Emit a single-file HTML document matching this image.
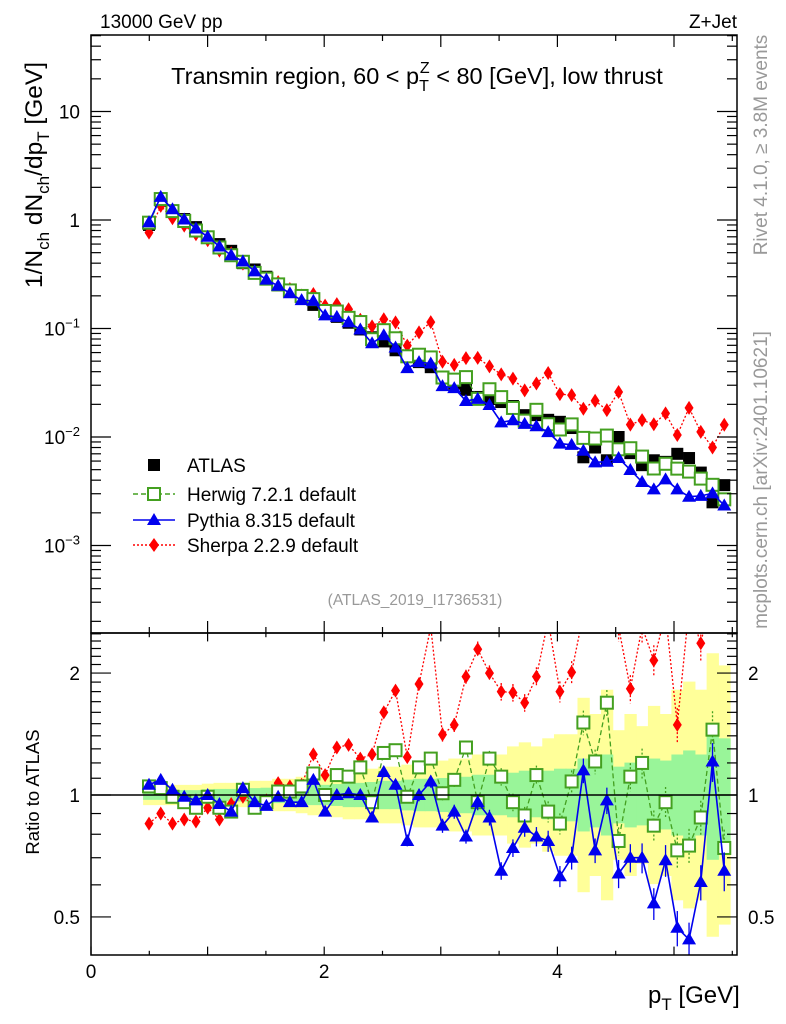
<!DOCTYPE html>
<html><head><meta charset="utf-8">
<style>
html,body{margin:0;padding:0;background:#fff;}
svg{display:block;font-family:"Liberation Sans",Arial,sans-serif;}
</style></head>
<body>
<svg id="chart" width="786" height="1024" viewBox="0 0 786 1024" xmlns="http://www.w3.org/2000/svg">
<defs>
<clipPath id="clipMain"><rect x="91" y="35" width="646" height="598"/></clipPath>
<clipPath id="clipRatio"><rect x="91" y="633" width="646" height="322"/></clipPath>
</defs>
<g id="bands" clip-path="url(#clipRatio)"></g>
<g id="series"></g>
<g id="axes"></g>
<text x="100" y="28" font-size="19">13000 GeV pp</text>
<text x="737" y="28" font-size="19" text-anchor="end">Z+Jet</text>
<text x="417" y="84" font-size="23.5" text-anchor="middle">Transmin region, 60 &lt; p<tspan font-size="16" dy="7">T</tspan><tspan font-size="16" dx="-9" dy="-18">Z</tspan><tspan dy="11"> &lt; 80 [GeV], low thrust</tspan></text>
<text x="415" y="605" font-size="15.5" fill="#999" text-anchor="middle">(ATLAS_2019_I1736531)</text>
<text transform="translate(767,145) rotate(-90)" font-size="19" fill="#999" text-anchor="middle">Rivet 4.1.0, ≥ 3.8M events</text>
<text transform="translate(767,480) rotate(-90)" font-size="19" fill="#999" text-anchor="middle">mcplots.cern.ch [arXiv:2401.10621]</text>
<text transform="translate(42,175) rotate(-90)" font-size="24.5" text-anchor="middle">1/N<tspan font-size="17" dy="7">ch</tspan><tspan dy="-7"> dN</tspan><tspan font-size="17" dy="7">ch</tspan><tspan dy="-7">/dp</tspan><tspan font-size="17" dy="7">T</tspan><tspan dy="-7"> [GeV]</tspan></text>
<text transform="translate(39,792) rotate(-90)" font-size="18.5" text-anchor="middle">Ratio to ATLAS</text>
<text x="648" y="1003" font-size="24">p<tspan font-size="17" dy="7">T</tspan><tspan dy="-7"> [GeV]</tspan></text>
<g>
<rect x="148" y="459" width="12" height="12" fill="#000"/>
<text x="187" y="472" font-size="19">ATLAS</text>
<line x1="133" y1="494" x2="175" y2="494" stroke="#44a020" stroke-width="1.5" stroke-dasharray="5,3"/>
<rect x="148" y="488" width="12" height="12" fill="#fff" stroke="#44a020" stroke-width="2"/>
<text x="187" y="501" font-size="19">Herwig 7.2.1 default</text>
<line x1="133" y1="520" x2="175" y2="520" stroke="#0000ee" stroke-width="1.5"/>
<path d="M154,513 L161,525 L147,525 Z" fill="#0000ee"/>
<text x="187" y="527" font-size="19">Pythia 8.315 default</text>
<line x1="133" y1="545" x2="175" y2="545" stroke="#ff0000" stroke-width="1.5" stroke-dasharray="2,2"/>
<path d="M154,538 L159,545 L154,552 L149,545 Z" fill="#ff0000"/>
<text x="187" y="552" font-size="19">Sherpa 2.2.9 default</text>
</g>
</svg>
<script>
const pT = [0.5,0.6,0.7,0.8,0.9,1.0,1.1,1.2,1.3,1.4,1.5,1.6,1.7,1.8,1.9,2.0,2.1,2.2,2.3,2.4,2.5,2.6,2.7,2.8,2.9,3.0,3.1,3.2,3.3,3.4,3.5,3.6,3.7,3.8,3.9,4.0,4.1,4.2,4.3,4.4,4.5,4.6,4.7,4.8,4.9,5.0,5.1,5.2,5.3,5.4];
const atlas = [0.90,1.50,1.22,1.02,0.86,0.70,0.60,0.52,0.40,0.35,0.30,0.25,0.22,0.19,0.165,0.145,0.128,0.113,0.098,0.083,0.076,0.063,0.056,0.049,0.044,0.035,0.031,0.0272,0.0234,0.0224,0.021,0.0193,0.0159,0.0159,0.0144,0.0138,0.0121,0.0065,0.0080,0.0061,0.0100,0.0071,0.0055,0.0061,0.0059,0.0070,0.0064,0.0047,0.0025,0.0036];
const herwigRatio = [1.05,1.04,0.99,0.96,0.93,0.99,0.93,0.91,1.03,0.93,0.96,1.02,1.02,1.05,1.13,1.0,1.12,1.11,1.17,0.96,1.27,1.29,0.99,1.17,1.23,1.01,1.09,1.31,0.96,1.23,1.11,0.96,0.89,1.12,0.91,0.85,1.08,1.51,1.21,1.69,0.77,1.11,1.20,0.84,0.96,0.73,0.75,0.88,1.45,0.74];
const pythiaRatio = [1.06,1.09,1.03,0.99,0.97,1.0,0.95,0.91,1.04,0.96,0.94,0.99,0.96,0.96,1.09,0.91,1.0,1.01,1.0,0.88,1.14,1.06,0.77,1.0,1.08,0.84,0.91,0.79,0.96,0.88,0.65,0.74,0.83,0.79,0.77,0.63,0.70,1.15,0.73,0.97,0.64,0.70,0.70,0.54,0.69,0.47,0.44,0.61,1.21,0.65];
const sherpaRatio = [0.85,0.90,0.85,0.87,0.86,0.93,0.87,0.95,0.99,0.94,0.97,1.07,1.05,1.06,1.26,1.12,1.31,1.33,1.23,1.26,1.60,1.81,1.24,1.88,2.6,1.41,1.49,1.96,2.29,2.0,1.80,1.79,1.69,1.96,2.7,1.80,2.01,2.8,2.7,2.9,2.6,1.83,2.6,2.15,2.8,1.49,2.9,2.37,3.2,3.6];
const mcErr = [0.01,0.01,0.01,0.01,0.01,0.01,0.01,0.01,0.01,0.01,0.015,0.015,0.015,0.02,0.02,0.02,0.02,0.025,0.025,0.025,0.03,0.03,0.03,0.035,0.035,0.04,0.04,0.04,0.045,0.045,0.05,0.05,0.05,0.055,0.06,0.06,0.065,0.07,0.07,0.075,0.08,0.08,0.085,0.09,0.09,0.1,0.1,0.1,0.11,0.11];
const yellowBand = [0.025,0.025,0.025,0.025,0.025,0.028,0.03,0.03,0.03,0.035,0.035,0.04,0.04,0.045,0.05,0.05,0.055,0.06,0.06,0.065,0.07,0.07,0.075,0.08,0.08,0.085,0.09,0.09,0.1,0.1,0.1,0.12,0.13,0.12,0.14,0.15,0.15,0.24,0.2,0.26,0.16,0.2,0.17,0.22,0.2,0.26,0.28,0.26,0.35,0.32];
const greenBand = [0.012,0.012,0.012,0.012,0.012,0.014,0.015,0.015,0.016,0.017,0.018,0.02,0.02,0.022,0.025,0.025,0.027,0.03,0.03,0.032,0.035,0.035,0.038,0.04,0.04,0.042,0.045,0.045,0.05,0.05,0.05,0.055,0.06,0.055,0.06,0.065,0.065,0.09,0.08,0.1,0.07,0.08,0.075,0.09,0.085,0.1,0.11,0.1,0.16,0.14];
const xTickLabels = ["0","2","4"];
const xTickValues = [0,2,4];
const mainTickExp = [1,0,-1,-2,-3];
const ratioTickValues = [2,1,0.5];

const NS="http://www.w3.org/2000/svg";
const X0=91, X1=737, MT=35, MB=633, RB=955;
const xs = v => 91 + v*116.6;
const xp = v => 149 + (v-0.5)*117.4;
const ym = v => 220 - Math.log10(v)*108.5;
const yr = v => 795 - Math.log10(v)*405;
function mk(tag, attrs, parent){const e=document.createElementNS(NS,tag);for(const k in attrs)e.setAttribute(k,attrs[k]);parent.appendChild(e);return e;}
const bands=document.getElementById('bands'), ser=document.getElementById('series'), ax=document.getElementById('axes');
const hw=5.9;
pT.forEach((p,i)=>{
  const y=mk('rect',{x:xp(p)-hw,y:yr(Math.pow(10,yellowBand[i])),width:2*hw+0.5,height:yr(Math.pow(10,-yellowBand[i]))-yr(Math.pow(10,yellowBand[i])),fill:'#ffff99'},bands);
  
  
});
pT.forEach((p,i)=>{
  const g=mk('rect',{x:xp(p)-hw,y:yr(Math.pow(10,greenBand[i])),width:2*hw+0.5,height:yr(Math.pow(10,-greenBand[i]))-yr(Math.pow(10,greenBand[i])),fill:'#99f599'},bands);
  
  
});
const one=mk('line',{x1:X0,x2:X1,y1:yr(1),y2:yr(1),stroke:'#000','stroke-width':1.5},ax);



const mainG=mk('g',{'clip-path':'url(#clipMain)'},ser);


const ratioG=mk('g',{'clip-path':'url(#clipRatio)'},ser);



function marker(kind,cx,cy,color,parent){
  let e;
  if(kind==='sq') e=mk('rect',{x:cx-6,y:cy-6,width:12,height:12,fill:'#fff',stroke:color,'stroke-width':2},parent);
  else if(kind==='tri') e=mk('path',{d:`M${cx},${cy-7} L${cx+7},${cy+5} L${cx-7},${cy+5} Z`,fill:color},parent);
  else e=mk('path',{d:`M${cx},${cy-7} L${cx+4.5},${cy} L${cx},${cy+7} L${cx-4.5},${cy} Z`,fill:color},parent);
  return e;
}
const models=[
 {name:'sherpa',r:sherpaRatio,color:'#ff0000',dash:'2,2',kind:'dia',w:1.3},
 {name:'herwig',r:herwigRatio,color:'#44a020',dash:'5,3',kind:'sq',w:1.3},
 {name:'pythia',r:pythiaRatio,color:'#0000ee',dash:'',kind:'tri',w:1.6}
];
pT.forEach((p,i)=>{
  const r=mk('rect',{x:xp(p)-6,y:ym(atlas[i])-6,width:12,height:12,fill:'#000'},mainG);
  
  
});
models.forEach(m=>{
  const mainPts=pT.map((p,i)=>[xp(p),ym(atlas[i]*m.r[i])]);
  const ratPts=pT.map((p,i)=>[xp(p),yr(m.r[i])]);
  [[mainG,mainPts,false],[ratioG,ratPts,true]].forEach(([g,pts,isR])=>{
    const l=mk('polyline',{points:pts.map(q=>q.join(',')).join(' '),fill:'none',stroke:m.color,'stroke-width':m.w,'stroke-dasharray':m.dash},g);
    
    
    pts.forEach((q,i)=>{
      if(isR){
        const e=mcErr[i];
        const eb=mk('line',{x1:q[0],x2:q[0],y1:yr(m.r[i]*(1+e)),y2:yr(m.r[i]*(1-e)),stroke:m.color,'stroke-width':1.3,'stroke-dasharray':m.dash?'2,2':''},g);
        
        
      }
      const mm=marker(m.kind,q[0],q[1],m.color,g);
      
      
    });
  });
});

const f1=mk('rect',{x:X0,y:MT,width:X1-X0,height:MB-MT,fill:'none',stroke:'#000','stroke-width':1.5},ax);


const f2=mk('rect',{x:X0,y:MB,width:X1-X0,height:RB-MB,fill:'none',stroke:'#000','stroke-width':1.5},ax);


function tick(x1,y1,x2,y2){const t=mk('line',{x1,y1,x2,y2,stroke:'#000','stroke-width':1.2},ax);

}
for(let v=0;v<=5.5;v+=0.5){
  const x=xs(v);
  const L=(Math.abs(v%1)<1e-6)?12:6;
  tick(x,MT,x,MT+L);tick(x,MB,x,MB-L);tick(x,MB,x,MB+L*0.7);tick(x,RB,x,RB-L*0.7);
}
xTickValues.forEach((v,i)=>{
  const t=mk('text',{x:xs(v),y:978,'font-size':19,'text-anchor':'middle'},ax);
  t.textContent=xTickLabels[i];
  
  
});
for(let e=-4;e<=1;e++){
  for(let k=1;k<10;k++){
    const v=k*Math.pow(10,e), y=ym(v);
    if(y<MT||y>MB) continue;
    const L=k===1?20:10;
    tick(X0,y,X0+L,y);tick(X1,y,X1-L,y);
  }
}
mainTickExp.forEach(e=>{
  const t=mk('text',{x:80,y:ym(Math.pow(10,e))+7,'font-size':19,'text-anchor':'end'},ax);
  if(e===1) t.textContent='10';
  else if(e===0) t.textContent='1';
  else { t.textContent='10'; const s=mk('tspan',{'font-size':13,dy:-8},t); s.textContent='−'+(-e); }
  
  
});
[0.4,0.5,0.6,0.7,0.8,0.9,1,1.1,1.2,1.3,1.4,1.5,1.6,1.7,1.8,1.9,2,2.1,2.2,2.3,2.4,2.5].forEach(v=>{
  const y=yr(v); if(y<MB||y>RB) return;
  const L=(v===0.5||v===1||v===2)?20:10;
  tick(X0,y,X0+L,y);tick(X1,y,X1-L,y);
});
ratioTickValues.forEach(v=>{
  [[80,'end'],[748,'start']].forEach(([x,a])=>{
    const t=mk('text',{x:x,y:yr(v)+7,'font-size':19,'text-anchor':a},ax);
    t.textContent=String(v);
    
    
  });
});
</script>
</body></html>
